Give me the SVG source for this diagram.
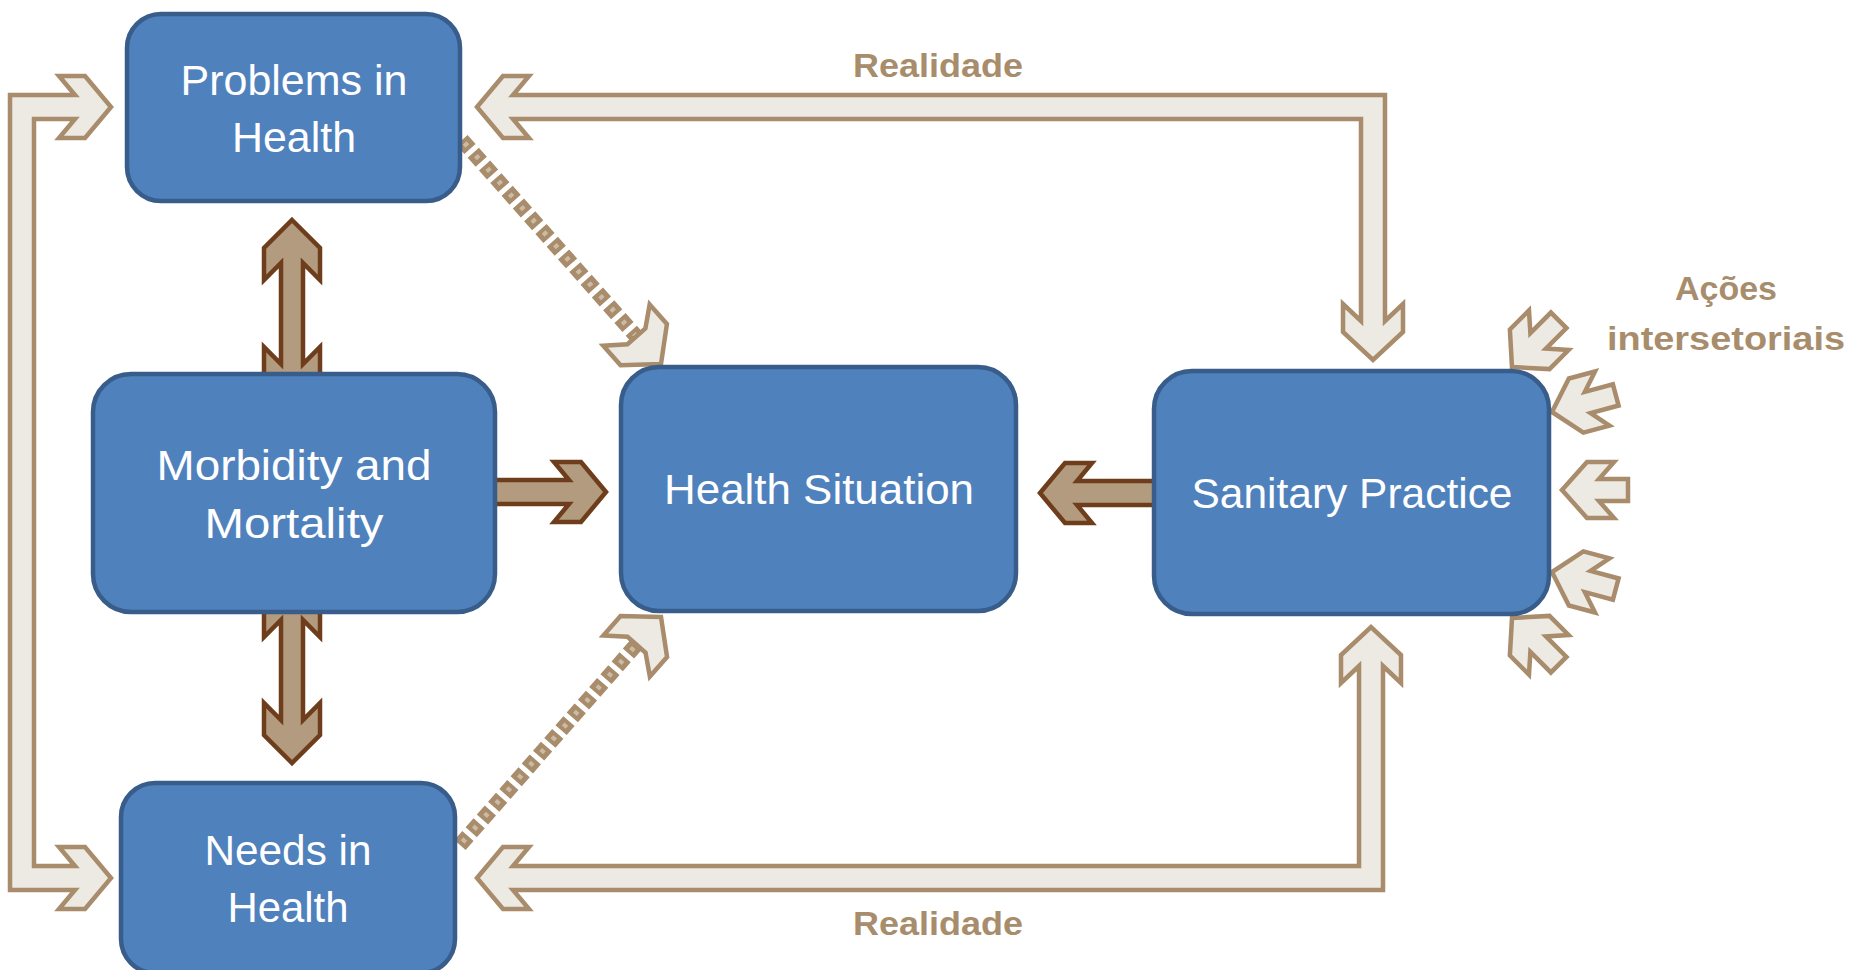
<svg xmlns="http://www.w3.org/2000/svg" width="1849" height="970" viewBox="0 0 1849 970">
<defs>
<style>
.box{fill:#4f81bd;stroke:#385d8a;stroke-width:4.5}
.lbl{font-family:"Liberation Sans",Arial,sans-serif;font-size:42px;fill:#ffffff;text-anchor:middle}
.note{font-family:"Liberation Sans",Arial,sans-serif;font-size:34px;font-weight:bold;fill:#a88d6c;text-anchor:middle}
.light{fill:#edeae3;stroke:#a88c6b;stroke-width:4.5;stroke-linejoin:miter}
.dark{fill:#b39b7f;stroke:#6e3d1b;stroke-width:4.5;stroke-linejoin:miter}
.dots{fill:none;stroke:#a88c6b;stroke-width:15;stroke-dasharray:12 5}
.dotcore{fill:none;stroke:#cbbba3;stroke-width:5;stroke-dasharray:4 13;stroke-dashoffset:-4}
</style>
<polygon id="smallArrow" class="light" points="0,0 -25,-28 -52,-28 -37,-11 -66,-11 -66,11 -37,11 -52,28 -25,28"/>
<polygon id="dotHead" class="light" points="0,0 -26,-31 -52,-31 -37,-12 -37,12 -52,31 -26,31"/>
</defs>
<rect width="1849" height="970" fill="#ffffff"/>

<g id="connectors">
  <!-- left loop: feeds Problems and Needs -->
  <polygon class="light" points="111,107 85,138 59,138 75,119 34,119 34,866 75,866 59,847 85,847 111,878 85,909 59,909 75,890 10,890 10,95 75,95 59,76 85,76"/>
  <!-- top Realidade: Sanitary -> Problems and down -->
  <polygon class="light" points="477,107 503,76 529,76 513,95 1385,95 1385,321 1403,304 1403,332 1373,360 1343,332 1343,304 1361,321 1361,119 513,119 529,138 503,138"/>
  <!-- bottom Realidade -->
  <polygon class="light" points="477,878 503,847 529,847 513,866 1359,866 1359,666 1341,683 1341,655 1371,627 1401,655 1401,683 1383,666 1383,890 513,890 529,909 503,909"/>
  <!-- dotted connectors -->
  <line class="dots" x1="462" y1="140" x2="636" y2="336"/>
  <line class="dotcore" x1="462" y1="140" x2="636" y2="336"/>
  <use href="#dotHead" transform="translate(661,364) rotate(48.4)"/>
  <line class="dots" x1="460" y1="845" x2="636" y2="645"/>
  <line class="dotcore" x1="460" y1="845" x2="636" y2="645"/>
  <use href="#dotHead" transform="translate(661,617) rotate(-48.6)"/>
  <!-- dark arrows -->
  <polygon class="dark" points="292,220 320,248 320,280 303,263 303,364 320,347 320,379 292,407 264,379 264,347 281,364 281,263 264,280 264,248"/>
  <polygon class="dark" points="292,577 320,605 320,637 303,620 303,720 320,703 320,735 292,763 264,735 264,703 281,720 281,620 264,637 264,605"/>
  <polygon class="dark" points="606,492 581,462 554,462 569,480 490,480 490,504 569,504 554,522 581,522"/>
  <polygon class="dark" points="1040,493 1065,463 1092,463 1077,481 1160,481 1160,505 1077,505 1092,523 1065,523"/>
  <!-- intersectoral actions -->
  <use href="#smallArrow" transform="translate(1512,367) rotate(135)"/>
  <use href="#smallArrow" transform="translate(1552,412) rotate(165)"/>
  <use href="#smallArrow" transform="translate(1562,490) rotate(180)"/>
  <use href="#smallArrow" transform="translate(1552,572) rotate(195)"/>
  <use href="#smallArrow" transform="translate(1512,618) rotate(225)"/>
  <text class="note" x="938" y="77" textLength="170" lengthAdjust="spacingAndGlyphs">Realidade</text>
  <text class="note" x="938" y="935" textLength="170" lengthAdjust="spacingAndGlyphs">Realidade</text>
  <text class="note" x="1726" y="300" textLength="102" lengthAdjust="spacingAndGlyphs">Ações</text>
  <text class="note" x="1726" y="350" textLength="238" lengthAdjust="spacingAndGlyphs">intersetoriais</text>
</g>

<g id="problems">
  <rect class="box" x="127" y="14" width="333" height="187" rx="34"/>
  <text class="lbl" x="294" y="95" textLength="227" lengthAdjust="spacingAndGlyphs">Problems in</text>
  <text class="lbl" x="294" y="152" textLength="124" lengthAdjust="spacingAndGlyphs">Health</text>
</g>
<g id="morbidity">
  <rect class="box" x="93" y="374" width="402" height="238" rx="38"/>
  <text class="lbl" x="294" y="480" textLength="275" lengthAdjust="spacingAndGlyphs">Morbidity and</text>
  <text class="lbl" x="294" y="538" textLength="179" lengthAdjust="spacingAndGlyphs">Mortality</text>
</g>
<g id="health-situation">
  <rect class="box" x="621" y="367" width="395" height="244" rx="38"/>
  <text class="lbl" x="819" y="504" textLength="310" lengthAdjust="spacingAndGlyphs">Health Situation</text>
</g>
<g id="sanitary-practice">
  <rect class="box" x="1154" y="371" width="395" height="243" rx="38"/>
  <text class="lbl" x="1352" y="508" textLength="321" lengthAdjust="spacingAndGlyphs">Sanitary Practice</text>
</g>
<g id="needs">
  <rect class="box" x="121" y="783" width="334" height="190" rx="34"/>
  <text class="lbl" x="288" y="865" textLength="167" lengthAdjust="spacingAndGlyphs">Needs in</text>
  <text class="lbl" x="288" y="922" textLength="121" lengthAdjust="spacingAndGlyphs">Health</text>
</g>
</svg>
